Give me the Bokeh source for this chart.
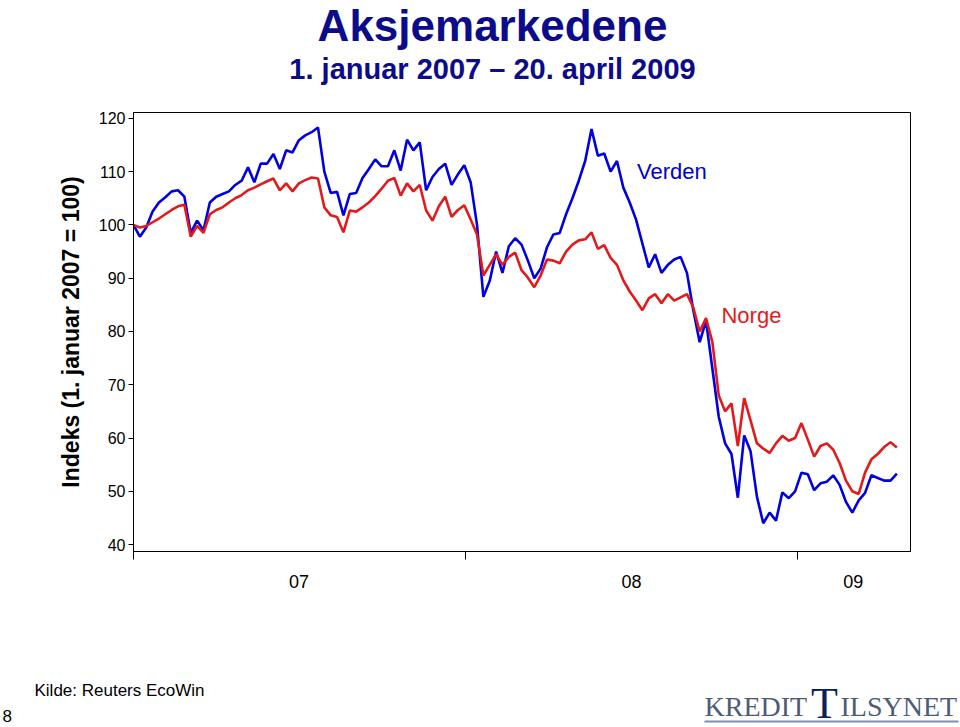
import pandas as pd
from bokeh.plotting import figure
from bokeh.layouts import column
from bokeh.models import Range1d, LinearAxis, FixedTicker, Label
from bokeh.embed import file_html
from bokeh.resources import INLINE

# Weekly observations, 1 Jan 2007 - 20 Apr 2009 (index, 1 Jan 2007 = 100)
start_date = "2007-01-01"
n_weeks = 121
verden = [
    100.0, 97.8, 99.5, 102.5, 104.2, 105.2, 106.3, 106.5, 105.3, 98.5,
    100.8, 99.0, 104.2, 105.3, 105.8, 106.3, 107.5, 108.3, 110.8, 108.0,
    111.5, 111.5, 113.3, 110.5, 114.0, 113.6, 115.9, 116.8, 117.4, 118.3,
    110.0, 106.0, 106.2, 101.8, 105.8, 106.0, 108.8, 110.5, 112.3, 111.0,
    111.0, 114.0, 110.2, 116.0, 114.0, 115.5, 106.5, 109.0, 110.5, 111.5,
    107.5, 109.5, 111.2, 108.0, 100.0, 86.5, 89.5, 95.0, 91.0, 96.0,
    97.5, 96.3, 93.3, 90.0, 91.8, 95.8, 98.2, 98.5, 102.0, 105.0,
    108.3, 112.0, 118.0, 113.0, 113.4, 110.0, 112.0, 107.0, 104.2, 101.0,
    96.5, 92.0, 94.5, 91.0, 92.5, 93.5, 94.0, 91.0, 84.0, 78.0,
    82.0, 73.0, 64.0, 59.0, 57.0, 48.8, 60.5, 57.5, 49.0, 44.0,
    46.0, 44.5, 49.8, 48.7, 50.0, 53.5, 53.2, 50.2, 51.5, 51.8,
    53.0, 51.2, 48.0, 46.0, 48.3, 49.7, 53.0, 52.5, 52.0, 52.0,
    53.3,
]
norge = [
    100.0, 99.5, 99.8, 100.5, 101.2, 102.0, 102.8, 103.5, 103.8, 97.8,
    99.8, 98.5, 102.0, 102.8, 103.3, 104.2, 105.0, 105.6, 106.5, 107.0,
    107.6, 108.2, 108.7, 106.5, 107.8, 106.3, 107.8, 108.4, 108.9, 108.7,
    103.3, 101.8, 101.5, 98.6, 102.7, 102.5, 103.3, 104.2, 105.4, 106.8,
    108.3, 108.8, 105.5, 107.8, 106.3, 107.5, 102.7, 100.8, 103.5, 105.3,
    101.5, 102.8, 103.7, 101.0, 98.2, 90.5, 92.5, 94.5, 92.5, 94.0,
    94.8, 91.5, 90.1, 88.3, 90.5, 93.5, 93.3, 92.8, 95.0, 96.3,
    97.1, 97.3, 98.6, 95.5, 96.2, 93.8, 92.5, 89.6, 87.5, 85.8,
    84.0, 86.2, 87.0, 85.3, 87.0, 85.8, 86.4, 87.0, 84.5, 80.0,
    82.5, 78.0, 68.0, 65.0, 66.5, 58.5, 67.5, 63.3, 59.0, 58.0,
    57.2, 59.0, 60.4, 59.5, 60.0, 62.8, 59.7, 56.5, 58.5, 59.0,
    57.8, 55.3, 52.0, 50.0, 49.5, 53.5, 56.0, 57.0, 58.3, 59.2,
    58.2,
]
y_ticks = [40, 50, 60, 70, 80, 90, 100, 110, 120]
year_starts = ["2007-01-01", "2008-01-01", "2009-01-01"]
year_label_dates = ["2007-07-02", "2008-07-02", "2009-03-03"]
year_labels = ["07", "08", "09"]

title_text = "Aksjemarkedene"
subtitle_text = "1. januar 2007 \u2013 20. april 2009"
ylabel_text = "Indeks (1. januar 2007 = 100)"
source_text = "Kilde: Reuters EcoWin"
page_text = "8"

dates = pd.date_range(start_date, periods=n_weeks, freq="7D")

def ms(d):
    return pd.Timestamp(d).value / 1e6

FONT = "Liberation Sans"
SERIF = "Liberation Serif"
W = 960


def text_fig(h):
    f = figure(width=W, height=h, output_backend="svg", toolbar_location=None,
               x_axis_type=None, y_axis_type=None,
               x_range=Range1d(0, W), y_range=Range1d(h, 0),
               min_border=0, min_border_left=0, min_border_right=0,
               min_border_top=0, min_border_bottom=0, frame_align=False)
    f.grid.visible = False
    f.outline_line_color = None
    f.background_fill_color = "white"
    f.border_fill_color = "white"
    return f


def put(f, x, y, text, **kw):
    f.add_layout(Label(x=x, y=y, text=text, text_baseline="middle", **kw))


# ---------- header ----------
TOP_H = 111
top = text_fig(TOP_H)
put(top, 492, 25, title_text, text_font=FONT, text_font_style="bold",
    text_font_size="44px", text_color="#0b0b8c", text_align="center",
    text_line_height=1.0)
put(top, 492, 68, subtitle_text, text_font=FONT, text_font_style="bold",
    text_font_size="29px", text_color="#0b0b8c", text_align="center",
    text_line_height=1.0)

# ---------- main chart ----------
p = figure(width=W, height=490, output_backend="svg", toolbar_location=None,
           x_axis_type=None, y_axis_type=None,
           x_range=Range1d(ms("2007-01-01"), ms("2009-05-05")),
           y_range=Range1d(38.7, 121.1),
           min_border_left=133, min_border_right=50,
           min_border_top=1, min_border_bottom=50, frame_align=False)
p.grid.visible = False
p.outline_line_color = "black"
p.outline_line_width = 1
p.background_fill_color = "white"
p.border_fill_color = "white"

ya = LinearAxis(ticker=FixedTicker(ticks=y_ticks))
ya.axis_label = ylabel_text
ya.axis_label_text_font = FONT
ya.axis_label_text_font_style = "bold"
ya.axis_label_text_font_size = "23px"
ya.axis_label_text_color = "black"
ya.axis_label_standoff = 12
ya.major_label_text_font = FONT
ya.major_label_text_font_size = "16px"
ya.major_label_text_color = "black"
ya.major_label_standoff = 3
ya.major_tick_out = 5
ya.major_tick_in = 0
ya.minor_tick_out = 0
ya.minor_tick_in = 0
ya.axis_line_color = "black"
p.add_layout(ya, "left")

xa = LinearAxis(ticker=FixedTicker(ticks=[ms(d) for d in year_label_dates],
                                   minor_ticks=[ms(d) for d in year_starts]))
xa.major_label_overrides = {ms(d): t for d, t in zip(year_label_dates, year_labels)}
xa.major_label_text_font = FONT
xa.major_label_text_font_size = "18px"
xa.major_label_text_color = "black"
xa.major_label_standoff = 15
xa.major_tick_out = 0
xa.major_tick_in = 0
xa.minor_tick_out = 8
xa.minor_tick_in = 0
xa.minor_tick_line_color = "black"
xa.axis_line_color = "black"
p.add_layout(xa, "below")

xs = [ms(d) for d in dates]
p.line(xs, verden, line_color="#0000e0", line_width=2.6)
p.line(xs, norge, line_color="#e31a1c", line_width=2.6)

p.add_layout(Label(x=ms("2008-07-08"), y=110.0, text="Verden", text_font=FONT,
                   text_font_size="22px", text_color="#0000cc",
                   text_baseline="middle", text_align="left"))
p.add_layout(Label(x=ms("2008-10-09"), y=83.0, text="Norge", text_font=FONT,
                   text_font_size="22px", text_color="#e31a1c",
                   text_baseline="middle", text_align="left"))

# ---------- footer ----------
BOT_H = 727 - TOP_H - 490
bot = text_fig(BOT_H)
put(bot, 34, 89, source_text, text_font=FONT, text_font_size="17px",
    text_color="black", text_align="left")
put(bot, 2, 114, page_text, text_font=FONT, text_font_size="17px",
    text_color="black", text_align="left", text_line_height=1.0)
# logo
bot.segment(x0=[704], y0=[120], x1=[958], y1=[120], line_color="#7d8fb0", line_width=2)
put(bot, 704, 105, "KREDIT", text_font=SERIF, text_font_size="28px",
    text_color="#4d5b78", text_align="left", text_line_height=1.0)
put(bot, 824, 102, "T", text_font=SERIF, text_font_size="44px",
    text_color="#0d1f5c", text_align="center", text_line_height=1.0)
put(bot, 840, 105, "ILSYNET", text_font=SERIF, text_font_size="28px",
    text_color="#4d5b78", text_align="left", text_line_height=1.0)

layout = column(top, p, bot, spacing=0)
open("out.html", "w").write(file_html(layout, INLINE))
